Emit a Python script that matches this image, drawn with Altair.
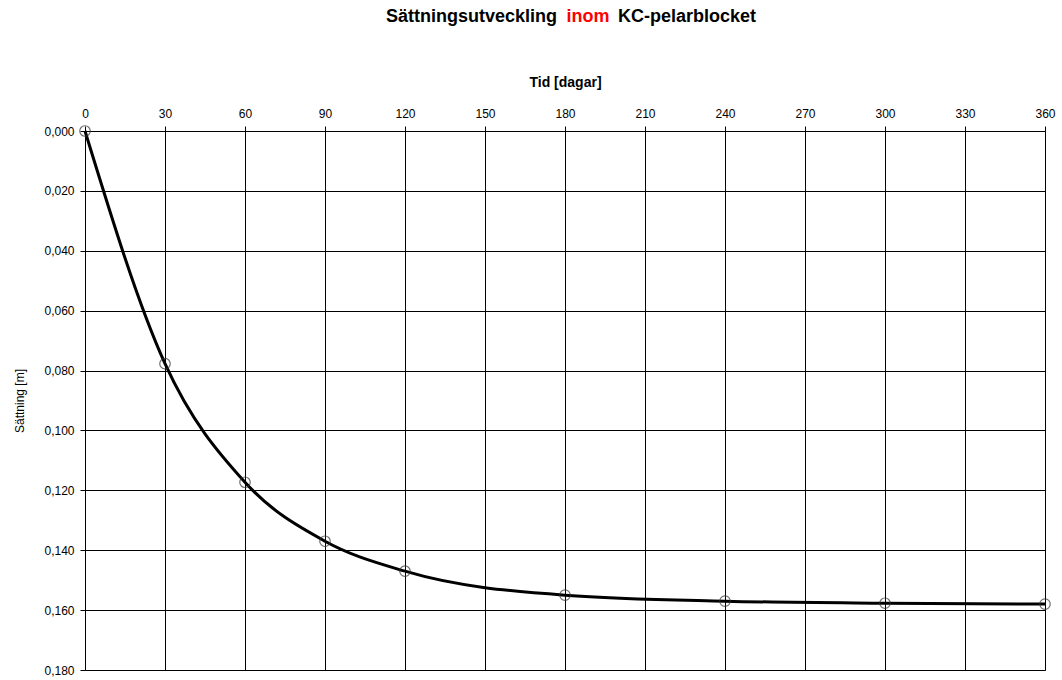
import altair as alt
import pandas as pd

dagar = [0, 30, 60, 90, 120, 180, 240, 300, 360]
sattning = [0.000, 0.0777, 0.1173, 0.137, 0.147, 0.155, 0.157, 0.1577, 0.158]
x_ticks = list(range(0, 361, 30))
y_ticks = [round(0.02 * i, 3) for i in range(10)]

df = pd.DataFrame({"Tid": dagar, "Sattning": sattning})
FONT = "Liberation Sans"

x = alt.X("Tid:Q", scale=alt.Scale(domain=[0, 360], nice=False, zero=False),
          axis=alt.Axis(orient="top", values=x_ticks, title="Tid [dagar]",
                        titleFontWeight="bold", titleFontSize=14, titleFont=FONT,
                        titleColor="black", titlePadding=18,
                        labelFont=FONT, labelFontSize=12, labelColor="black",
                        labelPadding=6, tickSize=5, tickColor="black",
                        domainColor="black", gridColor="black", gridOpacity=1,
                        gridWidth=1, labelFlush=False))
y = alt.Y("Sattning:Q", scale=alt.Scale(domain=[0, 0.18], reverse=True, nice=False),
          axis=alt.Axis(values=y_ticks, title="Sättning [m]", titleFont=FONT,
                        titleFontWeight="normal", titleFontSize=12, titleColor="black",
                        titlePadding=17,
                        labelExpr="replace(format(datum.value, '.3f'), '.', ',')",
                        labelFont=FONT, labelFontSize=12, labelColor="black",
                        labelPadding=6, tickSize=5, tickColor="black",
                        domainColor="black", gridColor="black", gridOpacity=1,
                        gridWidth=1, labelFlush=False))

line = alt.Chart(df).mark_line(color="black", strokeWidth=3,
                               interpolate="monotone").encode(x=x, y=y)
pts = alt.Chart(df).mark_point(shape="circle", size=110, filled=False,
                               color="#333333", strokeWidth=1.2).encode(x=x, y=y)

title_df = pd.DataFrame({"a": [0]})
t1 = alt.Chart(title_df).mark_text(text="Sättningsutveckling", align="right",
                                   font=FONT, fontSize=18, fontWeight="bold",
                                   color="black", baseline="middle").encode(
    x=alt.value(472), y=alt.value(-114))
t2 = alt.Chart(title_df).mark_text(text="inom", align="center",
                                   font=FONT, fontSize=18, fontWeight="bold",
                                   color="#ff0000", baseline="middle").encode(
    x=alt.value(503), y=alt.value(-114))
t3 = alt.Chart(title_df).mark_text(text="KC-pelarblocket", align="left",
                                   font=FONT, fontSize=18, fontWeight="bold",
                                   color="black", baseline="middle").encode(
    x=alt.value(533), y=alt.value(-114))

chart = alt.layer(line, pts, t1, t2, t3).properties(
    width=960, height=539,
    padding={"left": 85, "top": 131, "right": 17, "bottom": 10},
    autosize=alt.AutoSizeParams(type="none"),
    background="white",
).configure_view(stroke="#888888", strokeWidth=1)

chart.save("out.html", embed_options={"renderer": "svg", "actions": False})
